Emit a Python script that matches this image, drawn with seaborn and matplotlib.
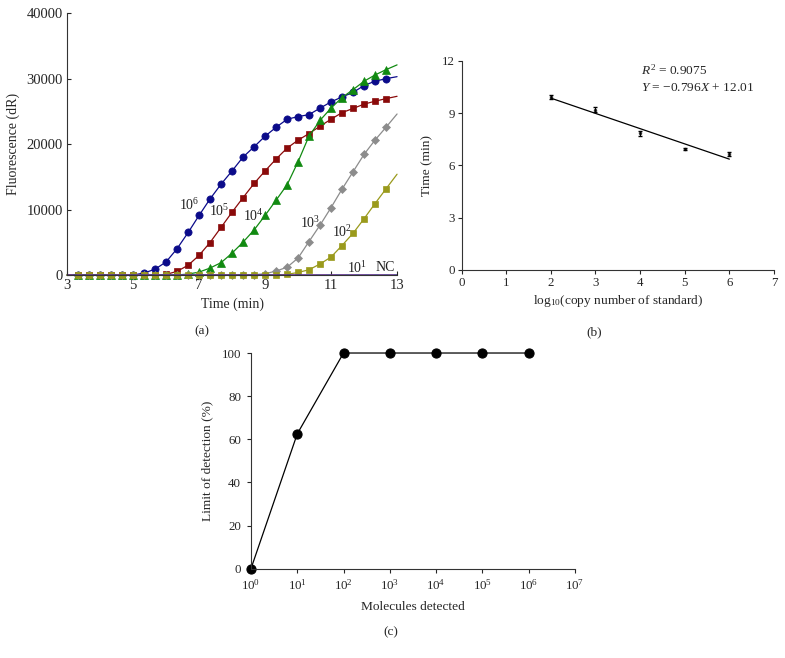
import numpy as np
import pandas as pd
import matplotlib
matplotlib.use("Agg")
import matplotlib.pyplot as plt
import seaborn as sns
from matplotlib.ticker import LogLocator, NullLocator

# ---------------- data ----------------
# Panel (a): amplification curves
time_min = [3.0, 3.33, 3.67, 4.0, 4.33, 4.67, 5.0, 5.33, 5.67, 6.0, 6.33, 6.67, 7.0,
            7.33, 7.67, 8.0, 8.33, 8.67, 9.0, 9.33, 9.67, 10.0, 10.33, 10.67, 11.0,
            11.33, 11.67, 12.0, 12.33, 12.67, 13.0]
fl_1e6 = [0, 0, 0, 0, 0, 0, 0, 300, 900, 2000, 4000, 6500, 9100, 11600, 13900, 15900,
          18000, 19600, 21200, 22550, 23800, 24200, 24500, 25500, 26450, 27200, 27900,
          28950, 29600, 30000, 30300]
fl_1e5 = [0, 0, 0, 0, 0, 0, 0, 0, 0, 100, 550, 1500, 3000, 4950, 7300, 9600, 11800,
          14000, 15900, 17700, 19400, 20600, 21600, 22750, 23800, 24800, 25450, 26100,
          26550, 26950, 27300]
fl_1e4 = [0, 0, 0, 0, 0, 0, 0, 0, 0, 0, 0, 150, 450, 1060, 1900, 3350, 5000, 6900,
          9100, 11400, 13800, 17300, 21200, 23650, 25500, 27100, 28330, 29600, 30550,
          31380, 32100]
fl_1e3 = [0, 0, 0, 0, 0, 0, 0, 0, 0, 0, 0, 0, 0, 0, 0, 0, 0, 50, 200, 600, 1200, 2600,
          5100, 7650, 10300, 13100, 15800, 18430, 20600, 22600, 24600]
fl_1e2 = [0, 0, 0, 0, 0, 0, 0, 0, 0, 0, 0, 0, 0, 0, 0, 0, 0, 0, 0, 0, 100, 400, 800,
          1700, 2750, 4500, 6400, 8600, 10900, 13200, 15400]
fl_1e1 = [0] * 31
fl_nc = [0] * 31

series_names = ["10^6", "10^5", "10^4", "10^3", "10^2"]
label_text = [r"$10^{6}$", r"$10^{5}$", r"$10^{4}$", r"$10^{3}$", r"$10^{2}$", r"$10^{1}$", "NC"]
label_x = [6.7, 7.6, 8.65, 10.37, 11.33, 11.8, 12.65]
label_y = [10700, 9700, 9000, 8000, 6600, 1100, 1150]

# Panel (b): standard curve
log_copies = [2, 3, 4, 5, 6]
time_thr = [9.91, 9.21, 7.85, 6.95, 6.66]
time_err = [0.12, 0.12, 0.15, 0.05, 0.10]

# Panel (c): limit of detection
molecules = [1, 10, 100, 1000, 10000, 100000, 1000000]
lod_pct = [0, 62.5, 100, 100, 100, 100, 100]

# ---------------- style ----------------
sns.set_style("ticks")
plt.rcParams["font.family"] = ["Liberation Serif", "DejaVu Serif"]
plt.rcParams["mathtext.fontset"] = "custom"
plt.rcParams["mathtext.rm"] = "Liberation Serif"
plt.rcParams["mathtext.it"] = "Liberation Serif:italic"
plt.rcParams["mathtext.default"] = "regular"
plt.rcParams["axes.linewidth"] = 0.8
plt.rcParams["xtick.major.width"] = 0.8
plt.rcParams["ytick.major.width"] = 0.8
plt.rcParams["axes.edgecolor"] = "#333333"

FS_A_TICK = 10.5
FS_A_LAB = 10
FS_TICK = 9.3
FS_LAB = 9.6
fig = plt.figure(figsize=(7.85, 6.58), dpi=100)

# ---------------- panel (a) ----------------
axa = fig.add_axes([0.0854, 0.582, 0.4204, 0.398])
df_a = pd.DataFrame({"t": time_min, "10^6": fl_1e6, "10^5": fl_1e5, "10^4": fl_1e4,
                     "10^3": fl_1e3, "10^2": fl_1e2, "10^1": fl_1e1, "NC": fl_nc})
styles = {
    "10^6": dict(color="#0b0b8a", marker="o", ms=5.2),
    "10^5": dict(color="#8a0a0a", marker="s", ms=4.8),
    "10^4": dict(color="#118a11", marker="^", ms=5.4),
    "10^3": dict(color="#8c8c8c", marker="D", ms=3.9),
    "10^2": dict(color="#9a9a1c", marker="s", ms=4.8),
}
for name in series_names:
    st = styles[name]
    sns.lineplot(data=df_a, x="t", y=name, ax=axa, color=st["color"], marker=st["marker"],
                 markersize=st["ms"], markeredgecolor=st["color"], markeredgewidth=0.5,
                 markevery=slice(1, 30), linewidth=0.9, estimator=None, clip_on=False)
sns.lineplot(data=df_a, x="t", y="10^1", ax=axa, color="#4a3a90", linewidth=1.2,
             estimator=None)
sns.lineplot(data=df_a, x="t", y="NC", ax=axa, color="#d0309a", linewidth=1.0,
             linestyle=(0, (4, 3)), estimator=None)
for txt, lx, ly in zip(label_text, label_x, label_y):
    axa.text(lx, ly, txt, fontsize=FS_A_LAB, ha="center", va="center", color="#222222")
axa.set_xlim(3, 13)
axa.set_ylim(0, 40000)
axa.set_xticks([3, 5, 7, 9, 11, 13])
axa.set_yticks([0, 10000, 20000, 30000, 40000])
axa.tick_params(direction="in", length=3, labelsize=FS_A_TICK, pad=3)
axa.set_xlabel("Time (min)", fontsize=FS_A_LAB, labelpad=4)
axa.set_ylabel("Fluorescence (dR)", fontsize=FS_A_LAB, labelpad=5)
sns.despine(ax=axa)

# ---------------- panel (b) ----------------
axb = fig.add_axes([0.588, 0.5897, 0.398, 0.3176])
sns.regplot(x=log_copies, y=time_thr, ax=axb, ci=None, color="black",
            scatter_kws=dict(s=6, linewidths=0), line_kws=dict(linewidth=0.9))
axb.errorbar(log_copies, time_thr, yerr=time_err, fmt="none", ecolor="black",
             elinewidth=0.8, capsize=1.2)
axb.text(4.03, 11.45, r"$\mathit{R}^{2}$ = 0.9075", fontsize=FS_LAB, ha="left", va="center")
axb.text(4.03, 10.45, r"$\mathit{Y}$ = −0.796$\mathit{X}$ + 12.01", fontsize=FS_LAB,
         ha="left", va="center")
axb.set_xlim(0, 7)
axb.set_ylim(0, 12)
axb.set_xticks(range(0, 8))
axb.set_yticks([0, 3, 6, 9, 12])
axb.tick_params(direction="out", length=3, labelsize=FS_TICK, pad=2)
axb.set_xlabel(r"log$_{10}$(copy number of standard)", fontsize=FS_LAB, labelpad=3)
axb.set_ylabel("Time (min)", fontsize=FS_LAB, labelpad=6)
sns.despine(ax=axb)

# ---------------- panel (c) ----------------
axc = fig.add_axes([0.3197, 0.1357, 0.4127, 0.3278])
df_c = pd.DataFrame({"molecules": molecules, "lod": lod_pct})
sns.lineplot(data=df_c, x="molecules", y="lod", ax=axc, color="black", marker="o",
             markersize=6.6, markeredgecolor="black", linewidth=0.9, estimator=None,
             clip_on=False)
axc.set_xscale("log")
axc.set_xlim(1, 1e7)
axc.set_ylim(0, 100)
axc.xaxis.set_major_locator(LogLocator(base=10, numticks=10))
axc.xaxis.set_minor_locator(NullLocator())
axc.set_yticks([0, 20, 40, 60, 80, 100])
axc.tick_params(direction="out", length=3, labelsize=FS_TICK, pad=4)
axc.set_xlabel("Molecules detected", fontsize=FS_LAB, labelpad=6)
axc.set_ylabel("Limit of detection (%)", fontsize=FS_LAB, labelpad=6)
sns.despine(ax=axc)

# panel labels
fig.text(202 / 785, 1 - 331 / 658, "(a)", fontsize=FS_LAB, ha="center", va="center")
fig.text(594 / 785, 1 - 332 / 658, "(b)", fontsize=FS_LAB, ha="center", va="center")
fig.text(391 / 785, 1 - 632 / 658, "(c)", fontsize=FS_LAB, ha="center", va="center")

fig.savefig("out.png", dpi=100)
